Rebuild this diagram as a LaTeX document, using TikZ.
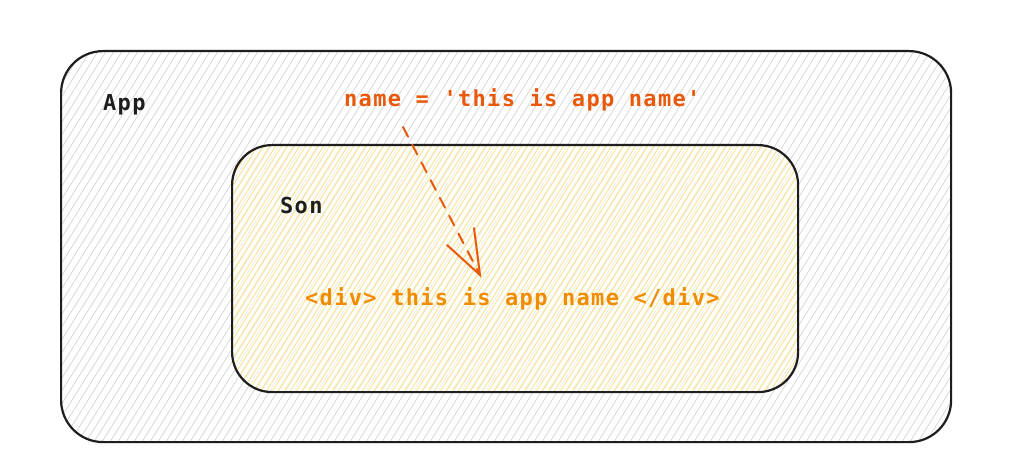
\documentclass[tikz,border=0pt]{standalone}
\usepackage{fontspec}
\setmonofont{DejaVu Sans Mono}[LetterSpace=6]
\definecolor{ink}{HTML}{1E1E1E}
\definecolor{orgA}{HTML}{E8590C}
\definecolor{orgB}{HTML}{F08C00}
\definecolor{hgray}{HTML}{D4D4D4}
\definecolor{hyell}{HTML}{F8E48C}
\begin{document}
\begin{tikzpicture}[x=1pt,y=-1pt,
  boxline/.style={draw=ink,line width=2.2pt,rounded corners=42pt},
  lbl/.style={font=\ttfamily\bfseries\fontsize{22}{26}\selectfont,inner sep=0pt,anchor=base west},
  arr/.style={draw=orgA,line width=2pt,line cap=round}]
\useasboundingbox[fill=white] (0,0) rectangle (1024,462);
% outer hatching
\begin{scope}
\clip[rounded corners=42pt] (60,50) rectangle (950,441);
\foreach \i in {-300,-292,...,1000} \draw[hgray,line width=0.7pt] (\i,445) -- ++(260,-416);
\end{scope}
% inner hatching
\begin{scope}
\clip[rounded corners=40pt] (231,144) rectangle (797,391);
\fill[white,opacity=0.5] (231,144) rectangle (797,391);
\foreach \i in {0,6,...,900} \draw[hyell,line width=0.9pt] (\i,395) -- ++(160,-256);
\end{scope}
\node[boxline,minimum width=890pt,minimum height=391pt,anchor=north west] (app) at (60,50) {};
\node[boxline,rounded corners=40pt,minimum width=566pt,minimum height=247pt,anchor=north west] (son) at (231,144) {};
\node[lbl,text=ink] (applbl) at (103,111) {App};
\node[lbl,text=ink] (sonlbl) at (280,214) {Son};
\node[lbl,text=orgA] (nametxt) at (344,107) {name = 'this is app name'};
\node[lbl,text=orgB] (divtxt) at (305,305) {<div> this is app name </div>};
\coordinate (tail) at (403,127);
\coordinate (tip) at (480,275);
\draw[arr,dash pattern=on 11pt off 9pt] (tail) -- (tip);
\draw[arr] (447,245) -- (tip) -- (474,228);
\end{tikzpicture}
\end{document}
